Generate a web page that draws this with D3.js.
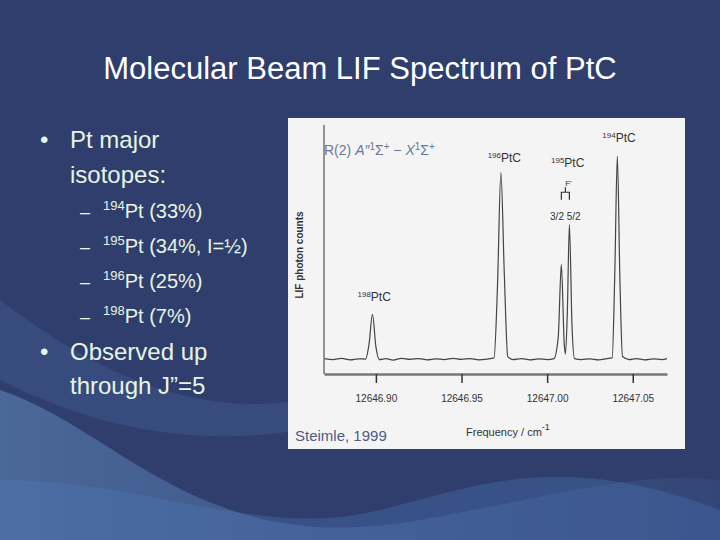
<!DOCTYPE html>
<html><head><meta charset="utf-8">
<script src="https://cdn.jsdelivr.net/npm/d3@7"></script>
<style>body{margin:0;background:#2f3e6d;} text{font-family:"Liberation Sans",Arial,sans-serif;}</style>
</head><body><div id="slide"></div>
<script>
// spectrum (frequency / cm-1, relative counts)
var freq = [12646.870,12646.875,12646.880,12646.885,12646.890,12646.894,12646.896,12646.898,12646.900,12646.902,
  12646.906,12646.910,12646.915,12646.920,12646.925,12646.930,12646.935,12646.940,12646.945,12646.950,
  12646.955,12646.960,12646.965,12646.969,12646.971,12646.973,12646.975,12646.977,12646.980,12646.985,
  12646.990,12646.995,12647.000,12647.004,12647.0065,12647.0083,12647.0100,12647.0107,12647.0118,12647.0130,
  12647.0145,12647.016,12647.020,12647.025,12647.030,12647.035,12647.038,12647.0395,12647.041,12647.0425,
  12647.044,12647.048,12647.052,12647.057,12647.062,12647.067,12647.070];
var counts = [.062,.058,.063,.057,.061,.060,.12,.24,.11,.058,
  .062,.056,.063,.059,.062,.057,.061,.058,.063,.059,
  .062,.057,.060,.065,.35,.81,.40,.07,.058,.062,
  .057,.061,.058,.062,.15,.44,.12,.08,.25,.60,
  .20,.062,.058,.061,.057,.062,.065,.40,.875,.38,
  .07,.058,.062,.057,.061,.058,.062];
var tickValues = [12646.90, 12646.95, 12647.00, 12647.05];
var peakLabels = [
  {iso:"198", f:12646.899, c:0.26},
  {iso:"196", f:12646.975, c:0.82},
  {iso:"195", f:12647.012, c:0.80},
  {iso:"194", f:12647.042, c:0.90}
];
var isotopes = [["194","(33%)"],["195","(34%, I=½)"],["196","(25%)"],["198","(7%)"]];

var svg = d3.select("#slide").append("svg").attr("width",720).attr("height",540);

var defs = svg.append("defs");
var g1 = defs.append("linearGradient").attr("id","sw").attr("x1",0).attr("y1",0).attr("x2",1).attr("y2",0);
g1.append("stop").attr("offset","0%").attr("stop-color","#6d9bd0").attr("stop-opacity",0.45);
g1.append("stop").attr("offset","100%").attr("stop-color","#5b8cc8").attr("stop-opacity",0.1);
svg.append("rect").attr("width",720).attr("height",540).attr("fill","#2f3e6d");
svg.append("path").attr("d","M0,390 C120,430 200,560 420,520 C560,495 640,470 720,480 L720,540 L0,540 Z").attr("fill","url(#sw)");
svg.append("path").attr("d","M0,480 C150,480 260,540 380,510 C480,485 560,450 720,510 L720,540 L0,540 Z").attr("fill","#4f7fbf").attr("opacity",0.3);
svg.append("path").attr("d","M0,300 C80,360 180,420 300,400 L300,430 C180,450 80,420 0,380 Z").attr("fill","#5f8ec8").attr("opacity",0.18);

svg.append("text").attr("x",360).attr("y",79).attr("text-anchor","middle").attr("fill","#fff")
  .style("font-size","31px").text("Molecular Beam LIF Spectrum of PtC");

var tc = "#e6f5e6";
var bl = svg.append("g").attr("fill",tc);
bl.append("text").attr("x",40).attr("y",148).style("font-size","24px").text("•");
bl.append("text").attr("x",70).attr("y",148).style("font-size","24px").text("Pt major");
bl.append("text").attr("x",70).attr("y",183).style("font-size","24px").text("isotopes:");
isotopes.forEach(function(d,i){
  var y = 218 + i*35;
  bl.append("text").attr("x",80).attr("y",y).style("font-size","18px").text("–");
  var t = bl.append("text").attr("x",103).attr("y",y).style("font-size","20px");
  t.append("tspan").attr("dy",-8).style("font-size","13px").text(d[0]);
  t.append("tspan").attr("dy",8).text("Pt " + d[1]);
});
bl.append("text").attr("x",40).attr("y",360).style("font-size","24px").text("•");
bl.append("text").attr("x",70).attr("y",360).style("font-size","24px").text("Observed up");
bl.append("text").attr("x",70).attr("y",394).style("font-size","24px").text("through J”=5");

// figure panel
svg.append("rect").attr("x",288).attr("y",118).attr("width",397).attr("height",331).attr("fill","#f4f4f4");

var x = d3.scaleLinear().domain([12646.8697, 12647.0700]).range([324, 667]);
var y = d3.scaleLinear().domain([0, 1]).range([374, 125]);

svg.append("line").attr("x1",324).attr("x2",324).attr("y1",125).attr("y2",374).attr("stroke","#333").attr("stroke-width",1);
var ax = svg.append("g").attr("transform","translate(0,374)")
  .call(d3.axisBottom(x).tickValues(tickValues).tickSize(9).tickSizeOuter(0).tickFormat(d3.format(".2f")));
ax.select(".domain").attr("stroke","#777").attr("stroke-width",2.5);
ax.selectAll(".tick line").attr("stroke","#333").attr("stroke-width",1.5);
ax.selectAll(".tick text").attr("fill","#333").attr("dy","1.6em").style("font-size","10px").style("font-family","'Liberation Sans Narrow',Arial");

var line = d3.line().x(function(d,i){return x(freq[i]);}).y(function(d){return y(d);}).curve(d3.curveMonotoneX);
svg.append("path").datum(counts).attr("d",line).attr("fill","none").attr("stroke","#444").attr("stroke-width",1.2);

peakLabels.forEach(function(p){
  var t = svg.append("text").attr("x",x(p.f)).attr("y",y(p.c)-8).attr("text-anchor","middle").attr("fill","#333")
    .style("font-size","12px").style("font-family","'Liberation Sans Narrow',Arial");
  t.append("tspan").attr("dy",-4).style("font-size","8px").text(p.iso);
  t.append("tspan").attr("dy",4).text("PtC");
});
// F' bracket for 195
var fa = x(12647.0083), fb = x(12647.0130), mid = (fa+fb)/2;
svg.append("path").attr("d","M"+fa+","+y(0.70)+" V"+y(0.73)+" H"+fb+" V"+y(0.70)+" M"+mid+","+y(0.73)+" V"+y(0.75))
  .attr("fill","none").attr("stroke","#333").attr("stroke-width",1.2);
svg.append("text").attr("x",mid+3).attr("y",y(0.755)).attr("text-anchor","middle").style("font-size","8px").attr("fill","#333").text("F'");
svg.append("text").attr("x",mid).attr("y",y(0.62)).attr("text-anchor","middle").style("font-size","10px")
  .style("font-family","'Liberation Sans Narrow',Arial").attr("fill","#333").text("3/2 5/2");

var rl = svg.append("text").attr("x",324).attr("y",155).attr("fill","#6a7894").style("font-size","14px");
rl.append("tspan").text("R(2) ");
rl.append("tspan").style("font-style","italic").text("A″");
rl.append("tspan").style("font-size","10px").attr("dy",-5).text("1");
rl.append("tspan").attr("dy",5).text("Σ");
rl.append("tspan").style("font-size","10px").attr("dy",-5).text("+");
rl.append("tspan").attr("dy",5).text(" − ");
rl.append("tspan").style("font-style","italic").text("X");
rl.append("tspan").style("font-size","10px").attr("dy",-5).text("1");
rl.append("tspan").attr("dy",5).text("Σ");
rl.append("tspan").style("font-size","10px").attr("dy",-5).text("+");

svg.append("text").attr("transform","translate(303,255) rotate(-90)").attr("text-anchor","middle")
  .style("font-size","10px").style("font-weight","bold").attr("fill","#333").text("LIF photon counts");
var fl = svg.append("text").attr("x",466).attr("y",436).style("font-size","11px").attr("fill","#333")
  .style("font-family","'Liberation Sans Narrow',Arial").text("Frequency / cm");
fl.append("tspan").attr("dy",-6).style("font-size","9px").text("-1");
svg.append("text").attr("x",295).attr("y",441).attr("fill","#4d5c85").style("font-size","15px").text("Steimle, 1999");
</script></body></html>
